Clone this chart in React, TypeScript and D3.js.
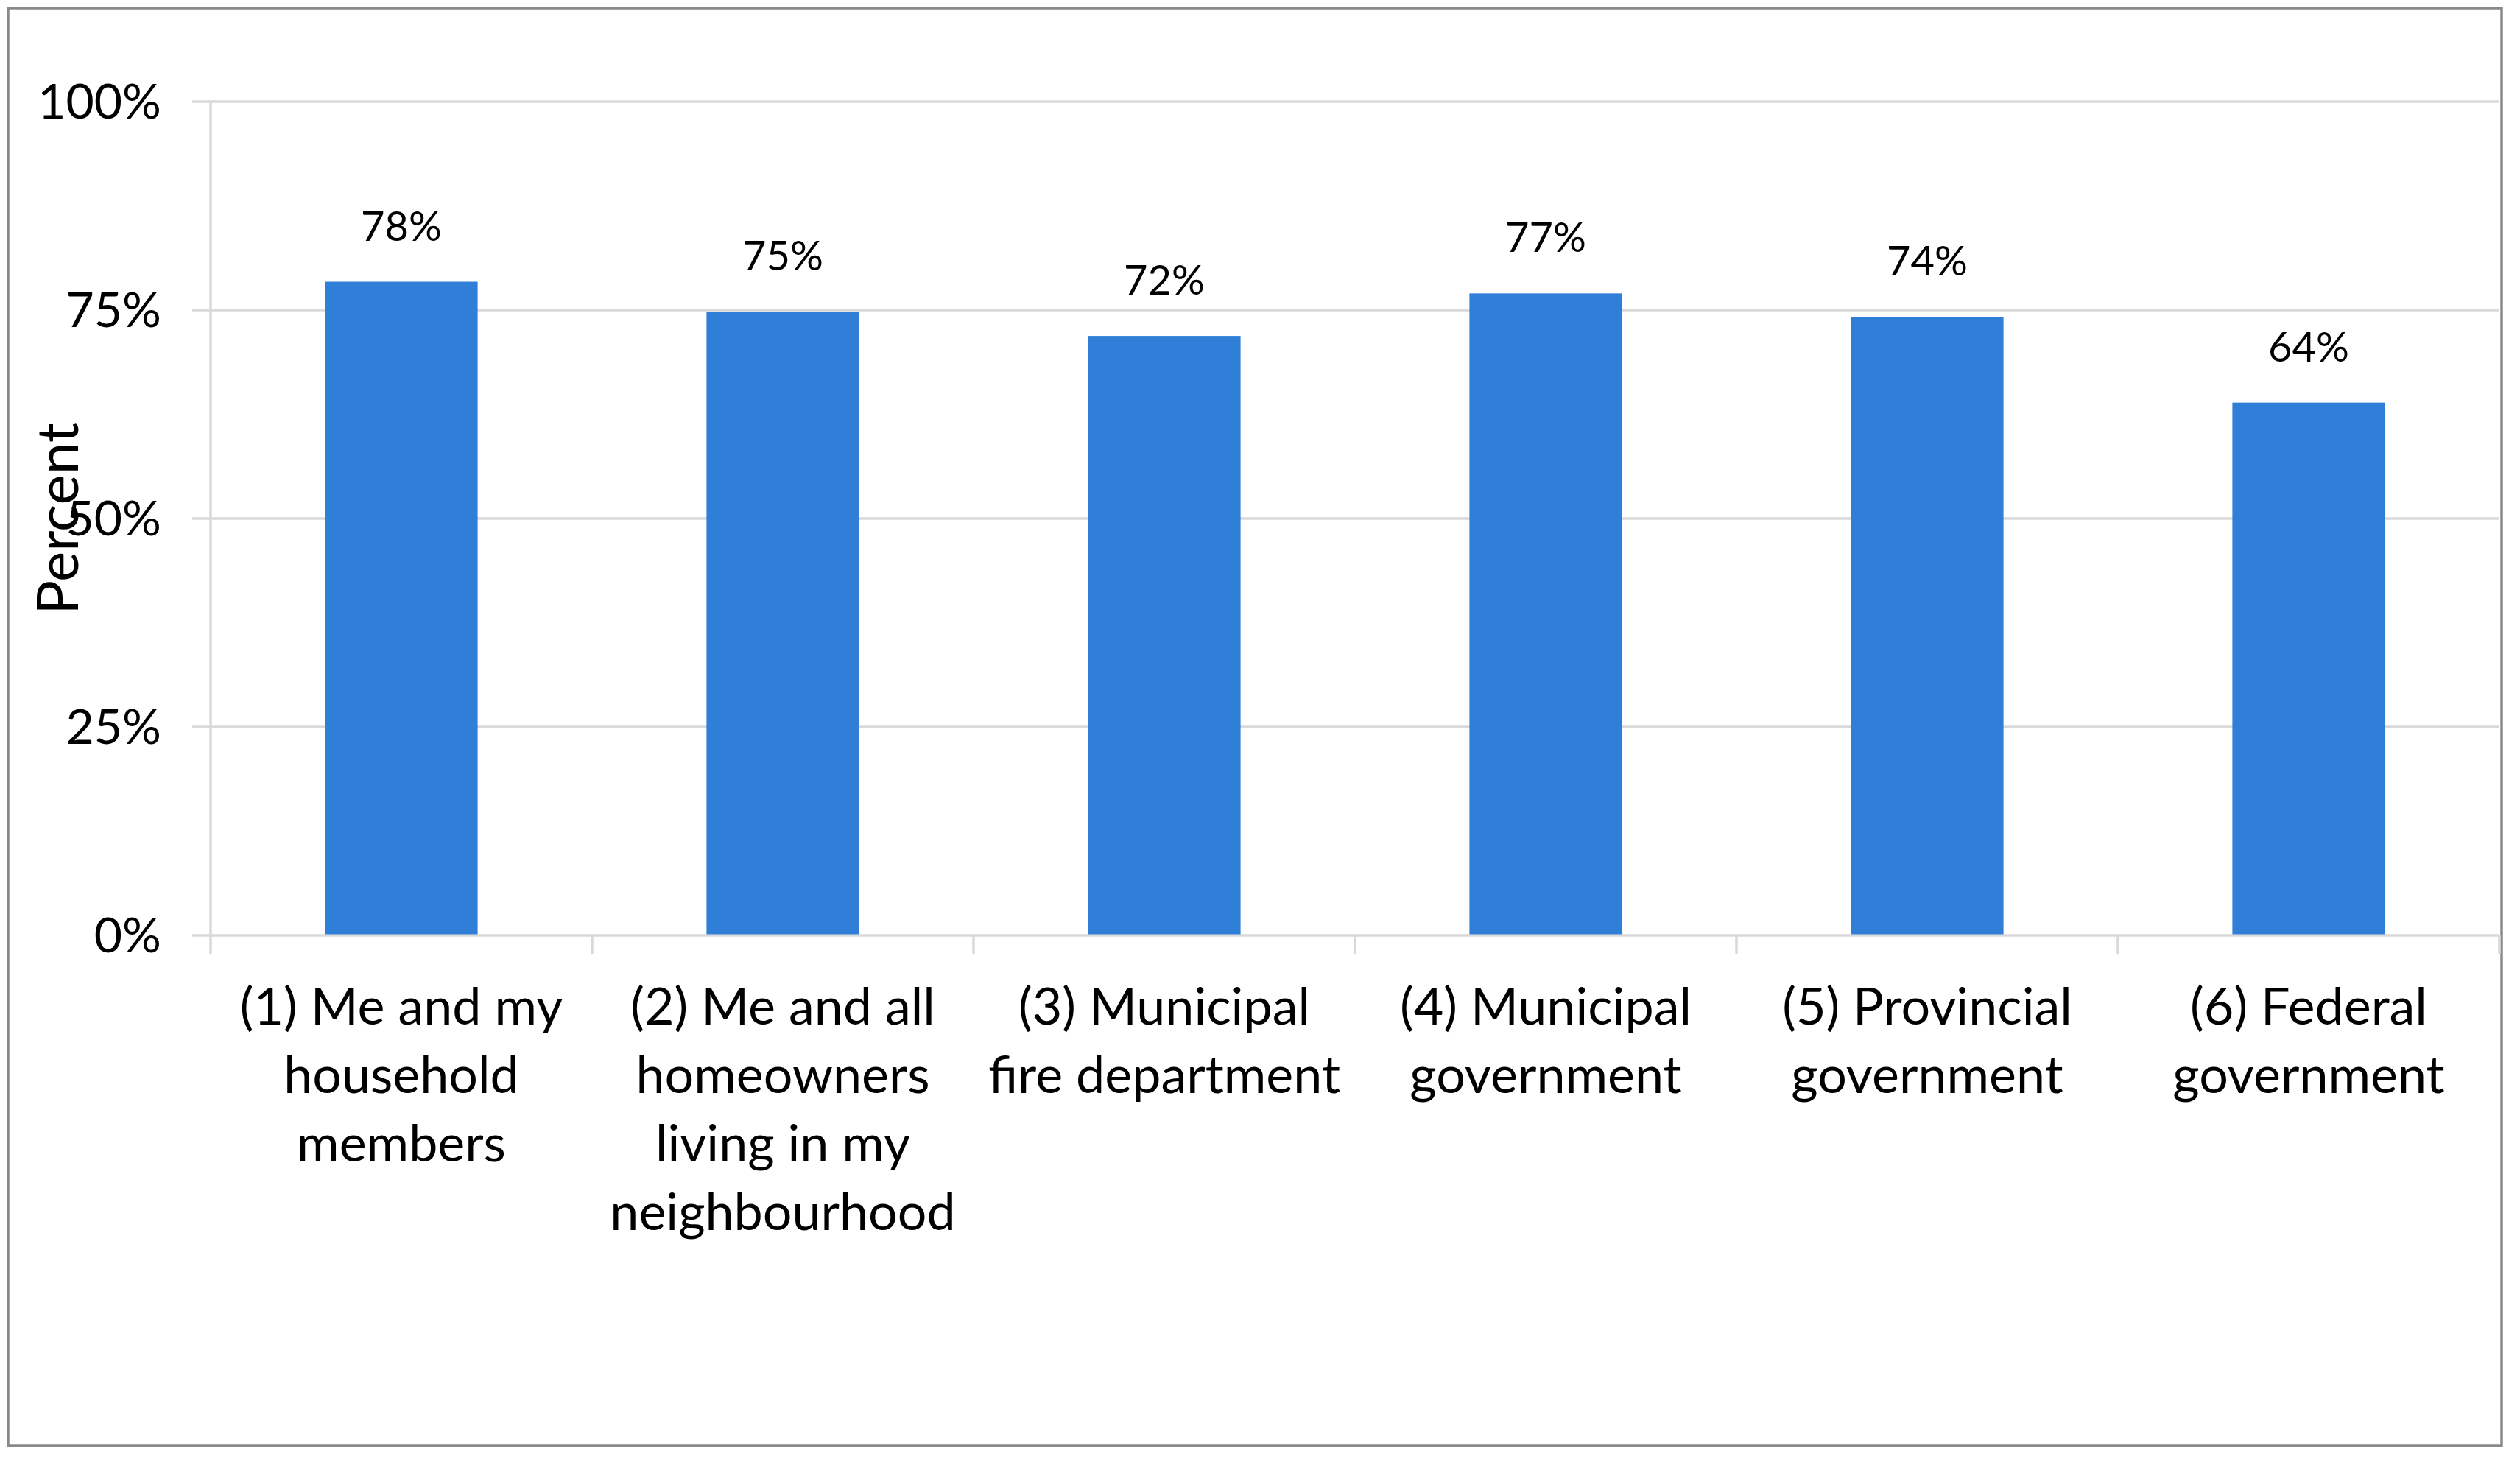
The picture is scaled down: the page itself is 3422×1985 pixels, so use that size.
import * as React from "react";
import * as d3 from "d3";

const categories = [
  "(1) Me and my household members",
  "(2) Me and all homeowners living in my neighbourhood",
  "(3) Municipal fire department",
  "(4) Municipal government",
  "(5) Provincial government",
  "(6) Federal government",
];

const categoryLines = [
  ["(1) Me and my", "household", "members"],
  ["(2) Me and all", "homeowners", "living in my", "neighbourhood"],
  ["(3) Municipal", "fire department"],
  ["(4) Municipal", "government"],
  ["(5) Provincial", "government"],
  ["(6) Federal", "government"],
];

const values = [78.4, 74.8, 71.9, 77.0, 74.2, 63.9];
const valueLabels = ["78%", "75%", "72%", "77%", "74%", "64%"];

const yTicks = [0, 25, 50, 75, 100];

const width = 3422;
const height = 1985;
const plotLeft = 286;
const plotRight = 3394;
const plotTop = 138;
const plotBottom = 1270;

const font = "Lato, 'Noto Sans', sans-serif";

const App: React.FC = () => {
  const x = d3.scaleBand<string>().domain(categories).range([plotLeft, plotRight]).padding(0);
  const y = d3.scaleLinear().domain([0, 100]).range([plotBottom, plotTop]);
  const bw = x.bandwidth();
  const barW = bw * 0.4;

  return (
    <svg
      width={width}
      height={height}
      style={{ position: "absolute", left: 0, top: 0, background: "#fff" }}
    >
      <rect x={11} y={11} width={3386} height={1952} fill="#fff" stroke="#898989" strokeWidth={3.5} />

      {/* gridlines */}
      <g stroke="#d9d9d9" strokeWidth={3.5}>
        {yTicks.map((t) => (
          <line key={t} x1={plotLeft - 25} x2={plotRight} y1={y(t)} y2={y(t)} />
        ))}
        <line x1={plotLeft} x2={plotLeft} y1={plotTop} y2={plotBottom + 25} />
        {categories.map((c) => (
          <line key={c} x1={x(c)! + bw} x2={x(c)! + bw} y1={plotBottom} y2={plotBottom + 25} />
        ))}
      </g>

      {/* y tick labels */}
      <g fontFamily={font} fontSize={66} fill="#000" textAnchor="end">
        {yTicks.map((t) => (
          <text key={t} x={219} y={y(t)} dy="0.35em">
            {t}%
          </text>
        ))}
      </g>

      {/* bars */}
      <g fill="#2f7ed8">
        {categories.map((c, i) => (
          <rect
            key={c}
            x={x(c)! + (bw - barW) / 2}
            y={y(values[i])}
            width={barW}
            height={y(0) - y(values[i]) - 1.5}
          />
        ))}
      </g>

      {/* value labels */}
      <g fontFamily={font} fontSize={56} fill="#000" textAnchor="middle">
        {categories.map((c, i) => (
          <text key={c} x={x(c)! + bw / 2} y={y(values[i]) - 56}>
            {valueLabels[i]}
          </text>
        ))}
      </g>

      {/* category labels */}
      <g fontFamily={font} fontSize={70} fill="#000" textAnchor="middle">
        {categories.map((c, i) => (
          <text key={c} x={x(c)! + bw / 2} y={1391}>
            {categoryLines[i].map((line, j) => (
              <tspan key={j} x={x(c)! + bw / 2} y={1391 + j * 93}>
                {line}
              </tspan>
            ))}
          </text>
        ))}
      </g>

      {/* axis title */}
      <text
        fontFamily={font}
        fontSize={78}
        fill="#000"
        textAnchor="middle"
        transform={`translate(106, ${y(50)}) rotate(-90)`}
      >
        Percent
      </text>
    </svg>
  );
};

export default App;
